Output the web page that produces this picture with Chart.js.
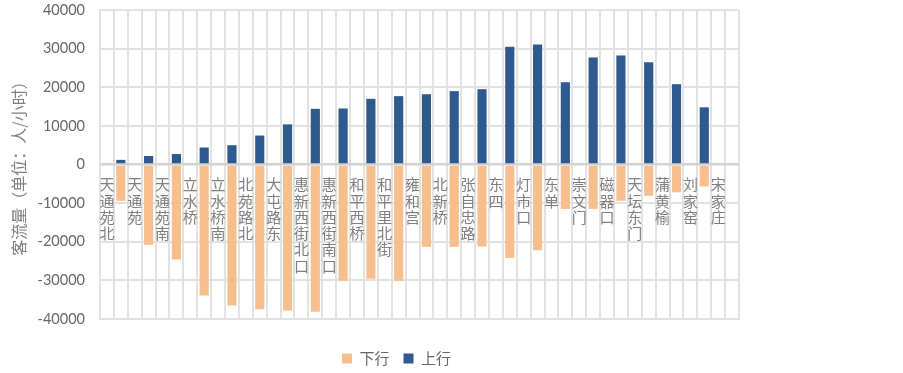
<!DOCTYPE html>
<html>
<head>
<meta charset="utf-8">
<script src="https://cdn.jsdelivr.net/npm/chart.js@4/dist/chart.umd.min.js"></script>
<style>
  html, body { margin: 0; padding: 0; background: #fff; }
  #wrap { width: 903px; height: 373px; position: relative; }
</style>
</head>
<body>
<div id="wrap"><canvas id="chart"></canvas></div>
<script>
// 车站（标签放在偶数位置，区间柱子放在两站之间的奇数位置）
const stations = ['天通苑北', '天通苑', '天通苑南', '立水桥', '立水桥南', '北苑路北', '大屯路东',
  '惠新西街北口', '惠新西街南口', '和平西桥', '和平里北街', '雍和宫', '北新桥', '张自忠路',
  '东四', '灯市口', '东单', '崇文门', '磁器口', '天坛东门', '蒲黄榆', '刘家窑', '宋家庄'];

// 上行 / 下行 区间客流（人/小时）
const upValues = [1200, 2200, 2700, 4400, 5000, 7500, 10400, 14400, 14500, 17000, 17700,
  18200, 19000, 19500, 30500, 31100, 21300, 27700, 28200, 26500, 20800, 14800];
const downValues = [-9400, -20800, -24600, -33900, -36500, -37500, -37800, -38100, -30100, -29600, -30100,
  -21300, -21300, -21200, -24200, -22200, -11500, -11500, -9400, -8100, -7200, -5700];

const yTicks = [-40000, -30000, -20000, -10000, 0, 10000, 20000, 30000, 40000];

const SLOTS = 46;
const slotLabels = [];
const upData = [];
const downData = [];
for (let i = 0; i < SLOTS; i++) {
  const isStation = i % 2 === 0;
  const k = isStation ? i / 2 : (i - 1) / 2;
  slotLabels.push(isStation && k < stations.length ? stations[k] : '');
  upData.push(!isStation && k < upValues.length ? upValues[k] : null);
  downData.push(!isStation && k < downValues.length ? downValues[k] : null);
}

const CJK = '"Noto Sans CJK SC", "Noto Sans", sans-serif';

// 站名竖排写在零线下方
const stationLabels = {
  id: 'stationLabels',
  afterDatasetsDraw(chart) {
    const { ctx, scales: { x, y } } = chart;
    const y0 = y.getPixelForValue(0);
    ctx.save();
    ctx.font = '15px ' + CJK;
    ctx.fillStyle = '#7f7f7f';
    ctx.textAlign = 'center';
    ctx.textBaseline = 'middle';
    stations.forEach((name, k) => {
      const px = x.getPixelForValue(k * 2);
      [...name].forEach((ch, j) => {
        ctx.fillText(ch, px, y0 + 20 + j * 16.3);
      });
    });
    ctx.restore();
  }
};

// 图例位置微调
const legendPlace = {
  id: 'legendPlace',
  afterLayout(chart) {
    const l = chart.legend;
    if (!l || !l.lineWidths) return;
    const pad = l.options.labels.padding;
    const startX = (l.left + pad + l.right - l.lineWidths[0]) / 2;
    const dx = 342 - startX;
    l.left += dx; l.right += dx;
    const h = l.bottom - l.top;
    l.top = 358.5 - pad - 7.5;
    l.bottom = l.top + h;
  }
};

new Chart(document.getElementById('chart'), {
  type: 'bar',
  data: {
    labels: slotLabels,
    datasets: [
      { label: '下行', data: downData, backgroundColor: '#F8BF8E', borderWidth: 0 },
      { label: '上行', data: upData, backgroundColor: '#2F5A8E', borderWidth: 0 }
    ]
  },
  options: {
    responsive: true,
    maintainAspectRatio: false,
    animation: false,
    layout: { padding: { left: 0, right: 164, top: 0, bottom: 0 } },
    datasets: { bar: { categoryPercentage: 1, barPercentage: 0.66 } },
    plugins: {
      tooltip: { enabled: false },
      legend: {
        position: 'bottom',
        labels: {
          boxWidth: 10, boxHeight: 10, padding: 14,
          color: '#666',
          font: { family: CJK, size: 15 }
        }
      }
    },
    scales: {
      x: {
        stacked: true,
        offset: true,
        ticks: { display: false },
        grid: { offset: true, color: '#e2e2e2', lineWidth: 2, drawTicks: false },
        border: { color: '#e2e2e2', width: 2 },
        afterFit: (s) => { s.height = 15; }
      },
      y: {
        stacked: true,
        min: -40000, max: 40000,
        afterBuildTicks: (s) => { s.ticks = yTicks.map(v => ({ value: v })); },
        ticks: {
          padding: 15,
          color: '#666',
          font: { family: 'Lato, "Open Sans", sans-serif', size: 14.5 },
          callback: (v) => String(v)
        },
        grid: {
          drawTicks: false,
          color: (c) => (c.tick && c.tick.value === 0 ? '#d2d2d2' : '#e2e2e2'),
          lineWidth: (c) => (c.tick && c.tick.value === 0 ? 2.5 : 2)
        },
        border: { color: '#e2e2e2', width: 2 },
        title: {
          display: true,
          text: '客流量（单位：人/小时）',
          color: '#7f7f7f',
          font: { family: CJK, size: 16 },
          padding: { top: 9, bottom: 0 }
        },
        afterFit: (s) => { s.width = 100; s.paddingTop = 10; s.paddingBottom = 10; }
      }
    }
  },
  plugins: [stationLabels, legendPlace]
});
</script>
</body>
</html>
